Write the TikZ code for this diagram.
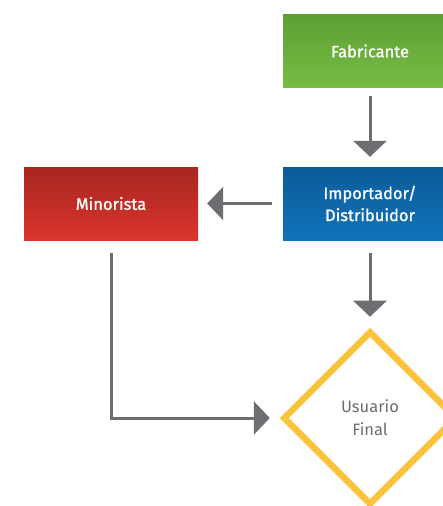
\documentclass[tikz,border=0pt]{standalone}
\usepackage{fontspec}
\setmainfont{Fira Sans}
\newfontfamily\boxfont{Fira Sans}[FakeBold=1.2]
\usetikzlibrary{arrows.meta,shapes.geometric}
\definecolor{fabgreen}{HTML}{76BD43}
\definecolor{fabgreendark}{HTML}{5E9F34}
\definecolor{impblue}{HTML}{1173BA}
\definecolor{impbluedark}{HTML}{0B5C99}
\definecolor{minred}{HTML}{D9352C}
\definecolor{minreddark}{HTML}{A82621}
\definecolor{usyellow}{HTML}{FBC43C}
\definecolor{flowgray}{HTML}{6D6E71}
\begin{document}
\begin{tikzpicture}[x=1pt, y=-1pt,
            box/.style={rectangle, minimum width=174pt, minimum height=73pt,
            align=center, text=white, font=\boxfont\fontsize{16.5}{22}\selectfont, inner sep=0pt},
            box1/.style={box, top color=fabgreendark, middle color=fabgreen, bottom color=fabgreen},
            box2/.style={box, top color=impbluedark, middle color=impblue, bottom color=impblue},
            box3/.style={box, top color=minreddark, middle color=minred, bottom color=minred},
            box4/.style={diamond, draw=usyellow, line width=6.5pt, minimum size=174pt, inner sep=0pt,
            align=center, text=flowgray, font=\fontsize{16.5}{23}\selectfont},
            flow/.style={draw=flowgray, line width=3pt, -{Triangle[width=33pt, length=16pt]}}
        ]
            \useasboundingbox (0,0) rectangle (442,506);
            \node (fabricante) [box1] at (370, 51) {Fabricante};
            \node (importador) [box2] at (370, 203.5) {Importador/\\Distribuidor};
            \node (minorista) [box3] at (111, 203.5) {Minorista};
            \node (usuario) [box4] at (370, 418) {Usuario\\Final};

            \draw [flow, shorten <=8pt, shorten >=10pt] (fabricante) -- (importador);
            \draw [flow, shorten <=11pt, shorten >=9pt] (importador) -- (minorista);
            \draw [flow, shorten <=13pt, shorten >=11pt] (importador) -- (usuario);
            \draw [flow, shorten <=13pt, shorten >=10pt] (minorista.south) |- (usuario.west);
        \end{tikzpicture}
\end{document}
